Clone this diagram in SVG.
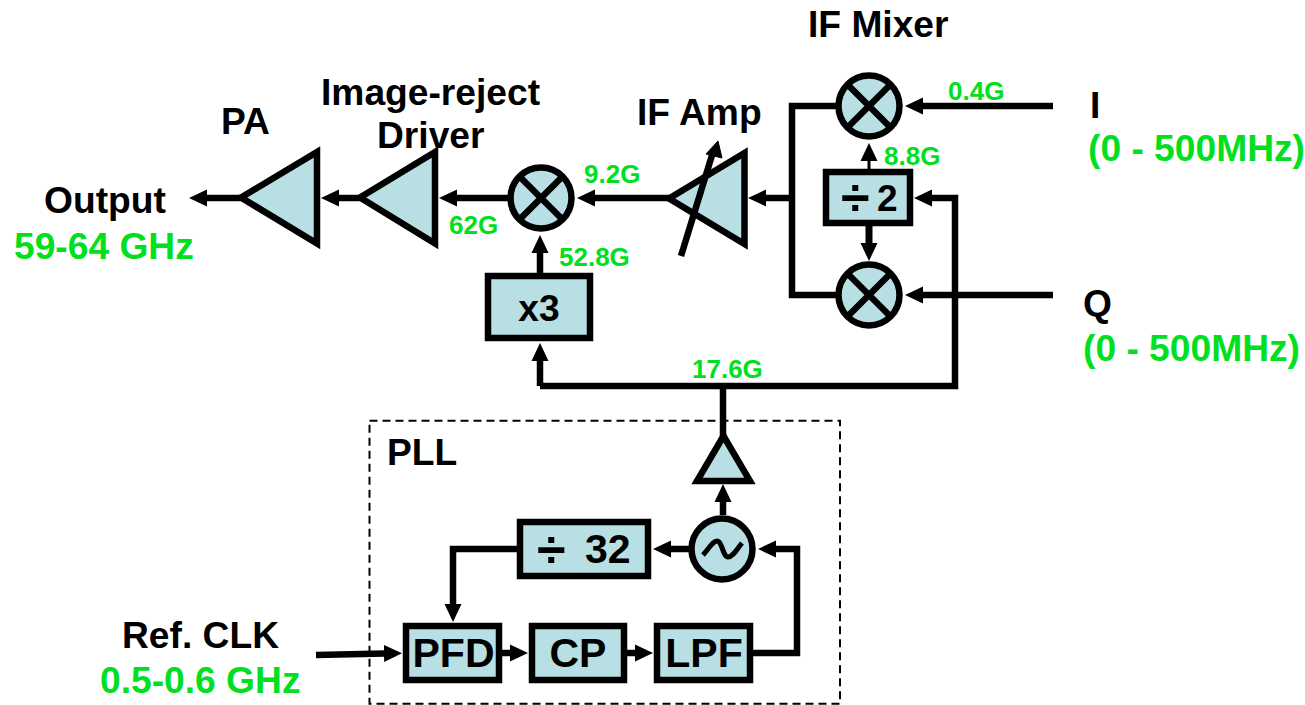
<svg xmlns="http://www.w3.org/2000/svg" width="1305" height="705" viewBox="0 0 1305 705">
<style>
text{font-family:"Liberation Sans",Arial,sans-serif;font-weight:700;fill:#000}
.g{fill:#00e020}
.l{font-size:37.200px}
.s{font-size:26px}
.b{font-size:41px;text-anchor:middle}
.n{fill:#b8dfe3;stroke:#000;stroke-width:6.500;stroke-miterlimit:10}
.x{fill:none;stroke:#000;stroke-width:6.500}
.c{fill:none;stroke:#000;stroke-width:6.500;marker-end:url(#a)}
.p{fill:none;stroke:#000;stroke-width:6.500}
</style>
<defs>
<marker id="a" markerUnits="userSpaceOnUse" markerWidth="18" markerHeight="18" refX="1" refY="9" orient="auto"><path d="M0 0.5L18 9L0 17.500z"/></marker>
<g id="mix"><circle class="n" r="30.500"/><path class="x" d="M-22-22L22 22M-22 22L22-22"/></g>
</defs>

<rect x="369.500" y="420.700" width="470.500" height="283" fill="none" stroke="#000" stroke-width="2" stroke-dasharray="8 5"/>

<g id="connectors">
<path class="c" d="M244 198H206"/>
<path class="c" d="M362 198H338"/>
<path class="c" d="M508 198H456"/>
<path class="c" d="M672 198H594"/>
<path class="c" d="M792 198H765"/>
<path class="p" d="M836 106H792V295H836"/>
<path class="c" d="M1053 106H922"/>
<path class="c" d="M1053 295H922"/>
<path class="c" d="M869 170V160" style="stroke-width:3"/>
<path class="c" d="M869 226V244" style="stroke-width:7"/>
<path class="c" d="M540 386H955V198H931"/>
<path class="c" d="M540 386V360"/>
<path class="c" d="M540 273V252"/>
<path class="p" d="M723 386V438"/>
<path class="c" d="M723 515V501"/>
<path class="c" d="M689 549H670"/>
<path class="c" d="M517 549H453V605"/>
<path class="c" d="M316 655L385 653.500"/>
<path class="c" d="M502 653H511"/>
<path class="c" d="M627 653H636"/>
<path class="c" d="M753 653H797V549H775"/>
</g>

<g id="pa"><polygon class="n" points="241,197.500 317,152 317,243.500"/></g>
<g id="driver"><polygon class="n" points="360,197.500 435,152 435,243.500"/></g>
<g id="mixer-rf"><use href="#mix" x="541" y="198"/></g>
<g id="x3"><rect class="n" x="488" y="276" width="102" height="62"/><text x="539" y="321" class="l" text-anchor="middle">x3</text></g>
<g id="if-amp"><polygon class="n" points="669,198.500 744.500,153 744.500,244"/><path class="x" d="M681 256L713 152"/><path d="M706 154L718 141L722 158z" stroke="#000" stroke-width="1"/></g>
<g id="mixer-i"><use href="#mix" x="869" y="106"/></g>
<g id="mixer-q"><use href="#mix" x="869" y="295"/></g>
<g id="div2"><rect class="n" x="826" y="172" width="84" height="51"/><text x="841" y="215" style="font-size:52px">÷</text><text x="877" y="211" style="font-size:37px">2</text></g>
<g id="buffer"><polygon class="n" points="723.500,436 697,481 750,481"/></g>
<g id="vco"><circle class="n" cx="722" cy="549" r="30.500"/><path d="M703 555C710 547 713 541 717 541C722 541 723 557 728 557C733 557 737 549 742 543" fill="none" stroke="#000" stroke-width="5"/></g>
<g id="div32"><rect class="n" x="520" y="522" width="128" height="54"/><text x="537" y="567" style="font-size:52px">÷</text><text x="585" y="563" style="font-size:41px">32</text></g>
<g id="pfd"><rect class="n" x="406" y="626" width="93" height="54"/><text x="453.500" y="667" class="b">PFD</text></g>
<g id="cp"><rect class="n" x="532" y="626" width="92" height="54"/><text x="578" y="667" class="b">CP</text></g>
<g id="lpf"><rect class="n" x="657" y="626" width="93" height="54"/><text x="704" y="667" class="b">LPF</text></g>

<g id="labels">
<text x="808" y="37" class="l">IF Mixer</text>
<text x="321" y="105" class="l">Image-reject</text>
<text x="377" y="148" class="l">Driver</text>
<text x="221" y="134" class="l">PA</text>
<text x="637" y="125" class="l">IF Amp</text>
<text x="44" y="213" class="l">Output</text>
<text x="14" y="259" class="l g">59-64 GHz</text>
<text x="1090" y="118" class="l">I</text>
<text x="1088" y="161" class="l g">(0 - 500MHz)</text>
<text x="1083" y="316" class="l">Q</text>
<text x="1083" y="361" class="l g">(0 - 500MHz)</text>
<text x="387" y="465" class="l">PLL</text>
<text x="122" y="648" class="l">Ref. CLK</text>
<text x="100" y="693" class="l g">0.5-0.6 GHz</text>
<text x="948" y="100" class="s g">0.4G</text>
<text x="884" y="165" class="s g">8.8G</text>
<text x="584" y="183" class="s g">9.2G</text>
<text x="449" y="234" class="s g">62G</text>
<text x="559" y="266" class="s g">52.8G</text>
<text x="692" y="378" class="s g">17.6G</text>
</g>
</svg>
